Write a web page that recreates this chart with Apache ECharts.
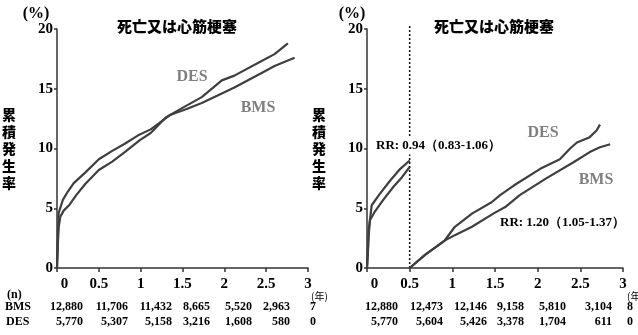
<!DOCTYPE html>
<html><head><meta charset="utf-8">
<script src="https://cdn.jsdelivr.net/npm/echarts@6/dist/echarts.min.js"></script>
<style>html,body{margin:0;padding:0;background:#fff}#c{width:638px;height:335px}</style>
</head><body><div id="c"></div>
<script>
const titleText = '死亡又は心筋梗塞';
const yTicks = [0, 5, 10, 15, 20];
const xTicks = [0, 0.5, 1, 1.5, 2, 2.5, 3];

const leftBMS = [[0,0],[0.01,2.5],[0.02,4.6],[0.07,5.7],[0.13,6.4],[0.2,7.1],[0.34,8.0],[0.5,9.1],[0.66,9.8],[0.81,10.4],[0.97,11.1],[1.12,11.6],[1.35,12.8],[1.55,13.3],[1.73,13.8],[1.97,14.6],[2.12,15.1],[2.44,16.3],[2.6,16.9],[2.84,17.6]];
const leftDES = [[0,0],[0.01,2.0],[0.02,3.4],[0.04,4.3],[0.08,4.8],[0.15,5.3],[0.23,6.1],[0.34,7.05],[0.5,8.2],[0.66,8.9],[0.81,9.7],[0.99,10.7],[1.12,11.3],[1.3,12.6],[1.5,13.4],[1.73,14.3],[1.97,15.7],[2.12,16.1],[2.44,17.3],[2.6,17.9],[2.76,18.8]];

const rightBMSEarly = [[0,0],[0.01,1.5],[0.02,3.2],[0.055,5.25],[0.15,6.2],[0.27,7.3],[0.39,8.3],[0.5,9.0]];
const rightDESEarly = [[0,0],[0.01,1.2],[0.02,2.8],[0.035,4.0],[0.09,4.7],[0.19,5.7],[0.31,6.8],[0.41,7.6],[0.5,8.45]];
const rightBMSLate = [[0.5,0],[0.68,1.1],[0.91,2.3],[1.03,2.75],[1.23,3.45],[1.48,4.55],[1.62,5.1],[1.79,6.1],[2.1,7.5],[2.42,8.85],[2.61,9.7],[2.73,10.1],[2.85,10.35]];
const rightDESLate = [[0.5,0],[0.68,1.1],[0.91,2.3],[1.03,3.45],[1.23,4.55],[1.46,5.5],[1.56,6.1],[1.72,6.9],[2.03,8.3],[2.26,9.1],[2.38,10.0],[2.46,10.5],[2.61,10.95],[2.69,11.5],[2.73,12.0]];

const atRiskLeftBMS = ['12,880','11,706','11,432','8,665','5,520','2,963','7'];
const atRiskLeftDES = ['5,770','5,307','5,158','3,216','1,608','580','0'];
const atRiskRightBMS = ['12,880','12,473','12,146','9,158','5,810','3,104','8'];
const atRiskRightDES = ['5,770','5,604','5,426','3,378','1,704','611','0'];

const rrEarly = 'RR: 0.94（0.83-1.06）';
const rrLate = 'RR: 1.20（1.05-1.37）';
const landmark = [[0.5, 0], [0.5, 20.4]];

const serif = '"Liberation Serif","DejaVu Serif",serif';
const cjk = '"Noto Sans CJK JP","Noto Sans CJK SC",sans-serif';
const curveColor = '#3f3f3f';
const axisColor = '#333';

function xAxisDef(gi) {
  return {
    type: 'value', gridIndex: gi, min: 0, max: 3, interval: 0.5,
    axisLine: {show: true, lineStyle: {color: axisColor, width: 1.5}},
    axisTick: {show: true, length: 4, lineStyle: {color: axisColor, width: 1.5}},
    splitLine: {show: false},
    axisLabel: {
      margin: 9, color: '#000', fontFamily: serif, fontWeight: 'bold', fontSize: 15,
      formatter: v => v === 0 ? '{z|0}' : String(v),
      rich: {z: {padding: [0, 0, 0, 15], fontFamily: serif, fontWeight: 'bold', fontSize: 15, color: '#000'}}
    }
  };
}
function yAxisDef(gi) {
  return {
    type: 'value', gridIndex: gi, min: 0, max: 20, interval: 5,
    name: '累\n積\n発\n生\n率', nameLocation: 'middle', nameGap: 41, nameRotate: 0,
    nameTextStyle: {fontFamily: cjk, fontWeight: 900, fontSize: 14, lineHeight: 17, color: '#000'},
    axisLine: {show: true, lineStyle: {color: axisColor, width: 1.5}},
    axisTick: {show: true, length: 3, lineStyle: {color: axisColor, width: 1.5}},
    splitLine: {show: false},
    axisLabel: {margin: 4, color: '#000', fontFamily: serif, fontWeight: 'bold', fontSize: 15}
  };
}
function lineSeries(data, xi, extra) {
  return Object.assign({
    type: 'line', data: data, xAxisIndex: xi, yAxisIndex: xi, showSymbol: false, symbol: 'none',
    lineStyle: {color: curveColor, width: 2.2}, itemStyle: {color: curveColor}, animation: false, z: 3
  }, extra || {});
}
function txt(x, y, text, opts) {
  return {type: 'text', x: x, y: y, z: 100, style: Object.assign({
    text: text, fill: '#000', font: 'bold 12px ' + serif, textAlign: 'left', textVerticalAlign: 'middle'
  }, opts || {})};
}

const tableRightEdgesL = [83,128,172,210,252,290,316];
const tableRightEdgesR = [398,443,487,524,566,612,633];
const graphics = [];
[0, 1].forEach(p => {
  const bms = p ? atRiskRightBMS : atRiskLeftBMS;
  const des = p ? atRiskRightDES : atRiskLeftDES;
  const edges = p ? tableRightEdgesR : tableRightEdgesL;
  bms.forEach((s, i) => graphics.push(txt(edges[i], 307, s, {textAlign: 'right'})));
  des.forEach((s, i) => graphics.push(txt(edges[i], 322, s, {textAlign: 'right'})));
});
graphics.push(txt(7, 295, '(n)', {font: 'bold 12px ' + serif}));
graphics.push(txt(5, 307, 'BMS', {font: 'bold 12px ' + serif}));
graphics.push(txt(6, 322, 'DES', {font: 'bold 12px ' + serif}));
graphics.push(txt(311, 296, '(年)', {font: '10px ' + cjk}));
graphics.push(txt(627, 296, '(年)', {font: '10px ' + cjk}));
graphics.push(txt(36, 14, '(%)', {font: 'bold 16px ' + serif, textAlign: 'center'}));
graphics.push(txt(352, 14, '(%)', {font: 'bold 16px ' + serif, textAlign: 'center'}));
graphics.push(txt(192, 77, 'DES', {font: 'bold 16px ' + serif, fill: '#808080', textAlign: 'center'}));
graphics.push(txt(258, 108, 'BMS', {font: 'bold 16px ' + serif, fill: '#808080', textAlign: 'center'}));
graphics.push(txt(543, 133, 'DES', {font: 'bold 16px ' + serif, fill: '#808080', textAlign: 'center'}));
graphics.push(txt(596, 180, 'BMS', {font: 'bold 16px ' + serif, fill: '#808080', textAlign: 'center'}));
graphics.push(txt(376, 146, rrEarly, {font: 'bold 13px ' + serif, backgroundColor: '#fff', padding: [2, 0]}));
graphics.push(txt(500, 223, rrLate, {font: 'bold 13px ' + serif}));

const chart = echarts.init(document.getElementById('c'), null, {renderer: 'canvas'});
chart.setOption({
  backgroundColor: '#fff',
  animation: false,
  title: [
    {text: titleText, left: 172, top: 14, textAlign: 'center', textStyle: {fontFamily: cjk, fontWeight: 900, fontSize: 15, color: '#000'}},
    {text: titleText, left: 489, top: 14, textAlign: 'center', textStyle: {fontFamily: cjk, fontWeight: 900, fontSize: 15, color: '#000'}}
  ],
  grid: [
    {left: 52, top: 29, width: 256, height: 239},
    {left: 367, top: 29, width: 256, height: 239}
  ],
  xAxis: [xAxisDef(0), xAxisDef(1)],
  yAxis: [yAxisDef(0), yAxisDef(1)],
  series: [
    lineSeries(leftBMS, 0),
    lineSeries(leftDES, 0),
    lineSeries(landmark, 1, {clip: false, z: 2, lineStyle: {type: [2, 2], color: '#111', width: 1.5}}),
    lineSeries(rightBMSEarly, 1),
    lineSeries(rightDESEarly, 1),
    lineSeries(rightBMSLate, 1),
    lineSeries(rightDESLate, 1)
  ],
  graphic: graphics
});
</script></body></html>
